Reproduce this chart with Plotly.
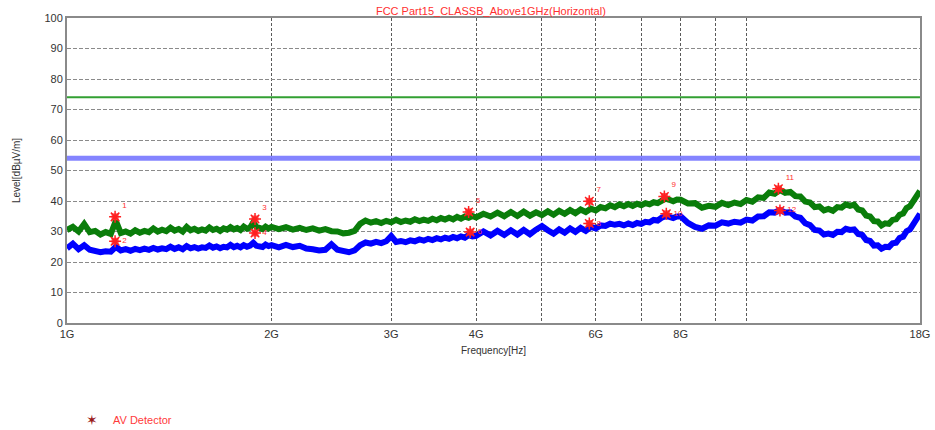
import plotly.graph_objects as go

# ---------------- data ----------------
FREQ_GHZ = [
    1.00, 1.02, 1.04, 1.06, 1.08, 1.10, 1.12, 1.14, 1.16, 1.18,
    1.20, 1.22, 1.24, 1.26, 1.28, 1.30, 1.32, 1.34, 1.36, 1.38,
    1.40, 1.42, 1.44, 1.46, 1.48, 1.50, 1.52, 1.54, 1.56, 1.58,
    1.60, 1.62, 1.64, 1.66, 1.68, 1.70, 1.72, 1.74, 1.76, 1.78,
    1.80, 1.82, 1.84, 1.86, 1.88, 1.90, 1.92, 1.94, 1.96, 1.98,
    2.00, 2.05, 2.10, 2.15, 2.20, 2.25, 2.30, 2.35, 2.40, 2.45,
    2.50, 2.55, 2.60, 2.65, 2.70, 2.75, 2.80, 2.85, 2.90, 2.95,
    3.00, 3.05, 3.10, 3.15, 3.20, 3.25, 3.30, 3.35, 3.40, 3.45,
    3.50, 3.55, 3.60, 3.65, 3.70, 3.75, 3.80, 3.85, 3.90, 3.95,
    4.0, 4.1, 4.2, 4.3, 4.4, 4.5, 4.6, 4.7, 4.8, 4.9,
    5.0, 5.1, 5.2, 5.3, 5.4, 5.5, 5.6, 5.7, 5.8, 5.9,
    6.0, 6.1, 6.2, 6.3, 6.4, 6.5, 6.6, 6.7, 6.8, 6.9,
    7.0, 7.1, 7.2, 7.3, 7.4, 7.5, 7.6, 7.7, 7.8, 7.9,
    8.0, 8.2, 8.4, 8.6, 8.8, 9.0, 9.2, 9.4, 9.6, 9.8,
    10.0, 10.2, 10.4, 10.6, 10.8, 11.0, 11.2, 11.4, 11.6, 11.8,
    12.0, 12.2, 12.4, 12.6, 12.8, 13.0, 13.2, 13.4, 13.6, 13.8,
    14.0, 14.2, 14.4, 14.6, 14.8, 15.0, 15.2, 15.4, 15.6, 15.8,
    16.0, 16.2, 16.4, 16.6, 16.8, 17.0, 17.2, 17.4, 17.6, 17.8,
    18.0,
]

PEAK_DBUV = [
    30.5, 31.5, 30.0, 32.5, 29.8, 30.2, 29.0, 29.8, 29.2, 33.5,
    29.5, 30.0, 29.3, 30.4, 29.6, 30.2, 29.8, 31.0, 30.0, 30.6,
    30.1, 31.2, 30.3, 30.8, 30.0, 31.5, 30.4, 30.9, 30.2, 30.7,
    30.3, 31.3, 30.5, 30.9, 30.2, 31.0, 30.6, 31.4, 30.7, 31.1,
    30.5, 31.6, 30.9, 31.3, 33.0, 31.5, 31.2, 30.8, 31.6, 31.0,
    31.5, 30.8, 31.4, 30.6, 31.2, 30.5, 31.0, 30.3, 30.8, 30.1,
    30.0, 29.4, 29.6, 30.2, 32.5, 33.6, 32.9, 33.4, 32.8, 33.5,
    33.0, 33.8, 33.1, 33.6, 33.2, 34.0, 33.4, 33.9, 33.5, 34.2,
    33.7, 34.4, 33.9, 34.5, 34.0, 34.8, 34.2, 34.9, 34.5, 35.1,
    34.6, 35.8, 34.9, 36.2, 35.0, 36.4, 35.1, 36.5, 35.2, 36.3,
    35.4, 36.6, 35.5, 36.8, 35.8, 37.0, 36.0, 37.2, 36.4, 37.5,
    36.9, 38.0, 37.6, 38.6, 38.0, 38.9, 38.3, 39.0, 38.4, 39.1,
    38.6, 39.3, 38.9, 39.6, 39.3, 40.3, 40.8, 40.4, 39.9, 40.5,
    40.4, 39.2, 39.3, 37.8, 38.4, 38.1, 39.4, 38.7, 39.5, 39.0,
    40.3, 39.8, 41.2, 41.0, 42.8, 42.4, 43.6, 42.7, 43.0, 41.6,
    41.5, 39.8, 39.5, 38.0, 38.2, 36.9, 37.4, 36.8, 38.0, 37.8,
    38.9, 38.4, 38.8, 37.2, 36.9, 35.2, 34.9, 33.4, 33.3, 32.0,
    32.7, 32.5, 33.8, 34.0, 35.5, 35.9, 37.7, 38.3, 40.3, 41.3,
    43.3,
]

AVG_DBUV = [
    24.5, 26.0, 24.2, 25.5, 24.0, 23.6, 23.2, 23.5, 23.4, 25.0,
    23.8, 24.2, 23.7, 24.3, 23.9, 24.4, 24.0, 24.6, 24.1, 24.5,
    24.2, 25.0, 24.3, 24.8, 24.2, 25.2, 24.5, 24.9, 24.4, 24.8,
    24.6, 25.4, 24.7, 25.1, 24.5, 25.0, 24.8, 25.6, 24.9, 25.3,
    24.8, 25.5, 25.0, 25.4, 26.3, 25.3, 25.3, 24.9, 25.7, 25.2,
    25.5, 24.8, 25.6, 24.9, 25.3, 24.4, 24.2, 23.8, 24.0, 25.8,
    24.0, 23.4, 23.2, 23.8, 25.5, 26.4, 26.0, 26.6, 26.2, 26.8,
    28.5, 26.6, 26.9, 26.5, 27.1, 26.8, 27.4, 27.0, 27.6, 27.2,
    27.8, 27.4, 28.0, 27.6, 28.2, 27.8, 28.4, 28.0, 28.8, 28.4,
    28.6, 30.0, 28.7, 30.2, 28.9, 30.4, 29.0, 30.5, 29.1, 30.6,
    31.8, 30.4, 29.3, 30.7, 29.6, 31.0, 29.9, 31.2, 30.2, 31.5,
    31.0, 32.0, 31.8, 32.6, 32.2, 32.5, 32.0, 32.6, 32.1, 32.8,
    32.5, 33.2, 33.0, 33.8, 33.6, 34.5, 35.0, 34.8, 34.4, 34.9,
    35.0, 32.8, 31.5, 30.9, 32.0, 31.9, 33.0, 32.6, 33.2, 32.9,
    33.9, 33.6, 34.9, 35.0, 36.3, 36.2, 37.0, 36.2, 36.3, 34.9,
    34.5, 32.7, 32.1, 30.5, 30.3, 29.0, 29.3, 28.9, 29.9, 29.8,
    30.9, 30.5, 30.7, 29.2, 28.9, 27.2, 26.9, 25.4, 25.5, 24.4,
    25.0, 24.9, 26.1, 26.3, 27.9, 28.3, 30.1, 30.7, 32.7, 33.7,
    35.8,
]

LIMIT_FREQ_GHZ = [1.0, 18.0]
LIMIT_PEAK = [74, 74]
LIMIT_AV = [54, 54]

MARK_FREQ_GHZ = [1.177, 1.177, 1.891, 1.891, 3.90, 3.92, 5.87, 5.87, 7.57, 7.62, 11.14, 11.2]
MARK_LEVEL = [34.8, 26.8, 34.1, 29.5, 36.4, 29.8, 39.9, 32.6, 41.5, 35.8, 44.0, 36.9]
MARK_LABEL = ["1", "2", "3", "4", "5", "6", "7", "8", "9", "10", "11", "12"]

TICK_GHZ = [1, 2, 3, 4, 5, 6, 7, 8, 9, 10, 18]
TICK_TEXT = ["1G", "2G", "3G", "4G", "", "6G", "", "8G", "", "", "18G"]

LEGEND_TEXT = "AV Detector"

assert len(FREQ_GHZ) == len(PEAK_DBUV) == len(AVG_DBUV)

G = 1e9
hz = lambda lst: [v * G for v in lst]

fig = go.Figure()

# limit lines
fig.add_trace(go.Scatter(x=hz(LIMIT_FREQ_GHZ), y=LIMIT_AV, mode="lines",
                         line=dict(color="rgba(110,110,255,0.85)", width=5),
                         showlegend=False, hoverinfo="skip"))
fig.add_trace(go.Scatter(x=hz(LIMIT_FREQ_GHZ), y=LIMIT_PEAK, mode="lines",
                         line=dict(color="#33a033", width=2),
                         showlegend=False, hoverinfo="skip"))

# measurement traces
fig.add_trace(go.Scatter(x=hz(FREQ_GHZ), y=PEAK_DBUV, mode="lines",
                         line=dict(color="#0a7d0a", width=6),
                         showlegend=False, name="Peak"))
fig.add_trace(go.Scatter(x=hz(FREQ_GHZ), y=AVG_DBUV, mode="lines",
                         line=dict(color="#0000ff", width=6),
                         showlegend=False, name="AV"))

# markers
fig.add_trace(go.Scatter(x=hz(MARK_FREQ_GHZ), y=MARK_LEVEL, mode="markers",
                         marker=dict(symbol="square", size=7, color="rgba(255,40,40,0.8)"),
                         showlegend=False, hoverinfo="skip"))
fig.add_trace(go.Scatter(x=hz(MARK_FREQ_GHZ), y=MARK_LEVEL, mode="markers+text",
                         marker=dict(symbol="asterisk-open", size=10, color="#ff2020",
                                     line=dict(color="#ff2020", width=1.5)),
                         text=MARK_LABEL,
                         textposition=["top right" if i % 2 == 0 else "middle right"
                                       for i in range(len(MARK_LABEL))],
                         textfont=dict(color="#ff3030", size=8,
                                       family="Liberation Sans, Arial, sans-serif"),
                         showlegend=False))

grid_color = "#5a5a5a"
fig.update_xaxes(type="log", range=[9, 9 + 1.2553],
                 tickvals=hz(TICK_GHZ), ticktext=TICK_TEXT, ticks="",
                 showgrid=True, gridcolor=grid_color, griddash="3px,2px", gridwidth=1,
                 showline=True, linecolor="#8a8a8a", linewidth=2, mirror=True,
                 zeroline=False, automargin=False,
                 title=dict(text="Frequency[Hz]", font=dict(size=10, color="#333"), standoff=8),
                 tickfont=dict(size=11, color="#333"))
fig.update_yaxes(range=[0, 100], dtick=10, ticks="",
                 showgrid=True, gridcolor="#8a8a8a", griddash="4px,2px", gridwidth=1,
                 showline=True, linecolor="#8a8a8a", linewidth=2, mirror=True,
                 zeroline=False, automargin=False,
                 title=dict(text="Level[dBµV/m]", font=dict(size=10, color="#333"), standoff=22),
                 tickfont=dict(size=11, color="#333"))

# legend drawn as annotations (keeps margins fixed)
fig.add_annotation(xref="paper", yref="paper", x=0.029, y=-0.318,
                   text="✶", showarrow=False, xanchor="center", yanchor="middle",
                   font=dict(size=14, color="#9a1a1a", family="DejaVu Sans"))
fig.add_annotation(xref="paper", yref="paper", x=0.051, y=-0.318,
                   text=LEGEND_TEXT, showarrow=False, xanchor="left", yanchor="middle",
                   font=dict(size=11, color="#ff3b3b"))

fig.update_layout(
    width=935, height=430,
    margin=dict(l=67, r=15, t=18, b=107),
    paper_bgcolor="white", plot_bgcolor="white",
    font=dict(family="Liberation Sans, Arial, sans-serif", color="#333"),
    title=dict(text="FCC Part15_CLASSB_Above1GHz(Horizontal)",
               font=dict(size=11, color="#ff3030"),
               x=0.525, xanchor="center", y=0.974, yanchor="middle"),
    showlegend=False,
)

# remove the default 8px page margin so the figure sits at the window's corner
fig.write_html("out.html", config={"displayModeBar": False},
               post_script="document.body.style.margin='0';")
